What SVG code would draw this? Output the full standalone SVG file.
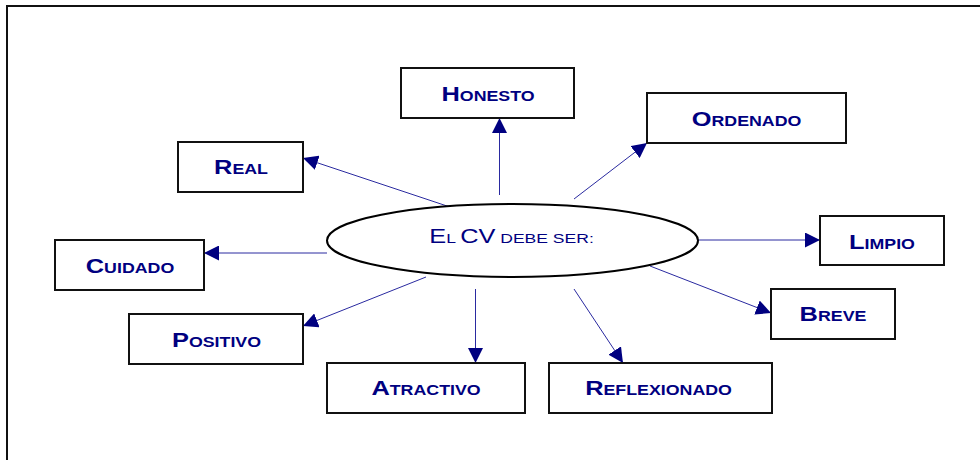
<svg xmlns="http://www.w3.org/2000/svg" width="980" height="460" viewBox="0 0 980 460">
<defs>
<style>
.box{fill:#fff;stroke:#111;stroke-width:2}
.lbl{font-family:"Liberation Sans",Arial,sans-serif;font-weight:bold;fill:#000080;text-anchor:middle}
.big{font-size:20px}
.sm{font-size:14px}
.ctr{font-family:"Liberation Sans",Arial,sans-serif;fill:#000080;text-anchor:middle}
.conn line{stroke:#2a2aa0;stroke-width:1;marker-end:url(#ah)}
</style>
<marker id="ah" markerUnits="userSpaceOnUse" markerWidth="15" markerHeight="15" refX="15" refY="7.5" orient="auto" viewBox="0 0 15 15">
<path d="M0,0 L15,7.5 L0,15 Z" fill="#000080"/>
</marker>
</defs>
<rect x="0" y="0" width="980" height="460" fill="#fff"/>
<rect x="7" y="6" width="1000" height="500" fill="none" stroke="#111" stroke-width="2"/>
<g id="connectors" class="conn">
<line x1="450" y1="207" x2="303" y2="158"/>
<line x1="499.5" y1="195" x2="499.5" y2="118"/>
<line x1="574" y1="199" x2="647" y2="143"/>
<line x1="698" y1="240" x2="820" y2="240"/>
<line x1="650" y1="266" x2="771" y2="313"/>
<line x1="574" y1="289" x2="623" y2="363"/>
<line x1="475.5" y1="289" x2="475.5" y2="363"/>
<line x1="426" y1="277" x2="303" y2="326"/>
<line x1="327" y1="253" x2="204" y2="253"/>
</g>
<g id="center">
<ellipse cx="512.5" cy="240.5" rx="185.5" ry="36.5" fill="#fff" stroke="#000" stroke-width="2"/>
<text class="ctr" transform="translate(511.5,242.5) scale(1.3,1)"><tspan font-size="19.5px">E</tspan><tspan font-size="13.5px">L </tspan><tspan font-size="19.5px">CV</tspan><tspan font-size="13.5px"> DEBE SER:</tspan></text>
</g>
<g id="honesto">
<rect class="box" x="401" y="68" width="173" height="50"/>
<text class="lbl" transform="translate(488,101) scale(1.27,1)"><tspan class="big">H</tspan><tspan class="sm">ONESTO</tspan></text>
</g>
<g id="real">
<rect class="box" x="178" y="142" width="125" height="50"/>
<text class="lbl" transform="translate(241,174) scale(1.27,1)"><tspan class="big">R</tspan><tspan class="sm">EAL</tspan></text>
</g>
<g id="ordenado">
<rect class="box" x="647" y="93" width="199" height="50"/>
<text class="lbl" transform="translate(746.5,126) scale(1.27,1)"><tspan class="big">O</tspan><tspan class="sm">RDENADO</tspan></text>
</g>
<g id="limpio">
<rect class="box" x="820" y="216" width="124" height="49"/>
<text class="lbl" transform="translate(882,249) scale(1.27,1)"><tspan class="big">L</tspan><tspan class="sm">IMPIO</tspan></text>
</g>
<g id="breve">
<rect class="box" x="771" y="289" width="124" height="50"/>
<text class="lbl" transform="translate(833,321) scale(1.27,1)"><tspan class="big">B</tspan><tspan class="sm">REVE</tspan></text>
</g>
<g id="cuidado">
<rect class="box" x="55" y="240" width="149" height="50"/>
<text class="lbl" transform="translate(130,273) scale(1.27,1)"><tspan class="big">C</tspan><tspan class="sm">UIDADO</tspan></text>
</g>
<g id="positivo">
<rect class="box" x="129" y="314" width="174" height="50"/>
<text class="lbl" transform="translate(216.5,347) scale(1.27,1)"><tspan class="big">P</tspan><tspan class="sm">OSITIVO</tspan></text>
</g>
<g id="atractivo">
<rect class="box" x="327" y="363" width="198" height="50"/>
<text class="lbl" transform="translate(426,394.5) scale(1.27,1)"><tspan class="big">A</tspan><tspan class="sm">TRACTIVO</tspan></text>
</g>
<g id="reflexionado">
<rect class="box" x="549" y="363" width="223" height="50"/>
<text class="lbl" transform="translate(658.5,395) scale(1.27,1)"><tspan class="big">R</tspan><tspan class="sm">EFLEXIONADO</tspan></text>
</g>
</svg>
